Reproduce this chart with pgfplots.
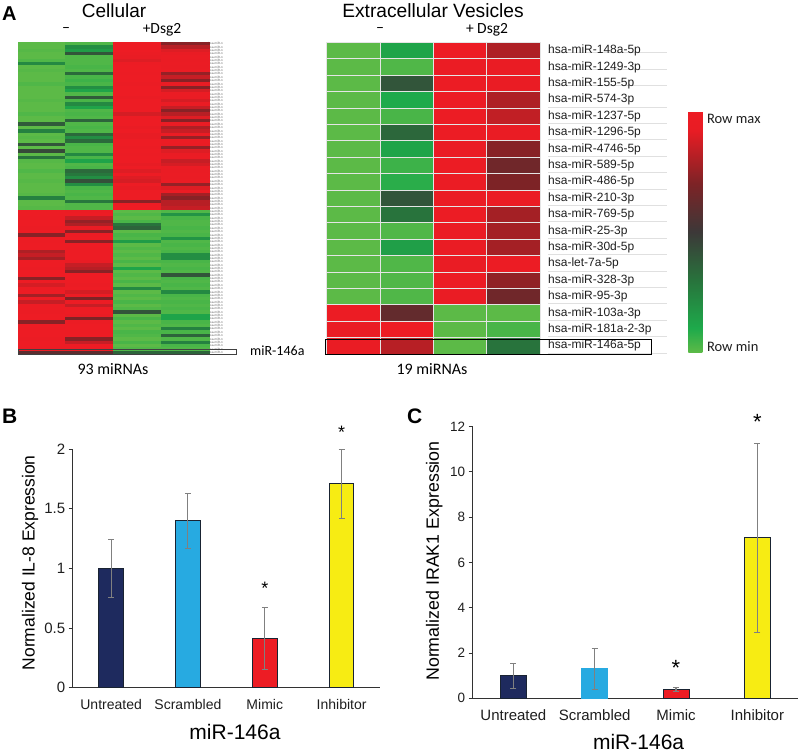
\documentclass[border=0pt]{standalone}
\usepackage{fontspec}
\setmainfont{Liberation Sans}
\newfontfamily\calfont{Carlito}
\usepackage{pgfplots}
\usepackage{pgfplotstable}
\pgfplotsset{compat=1.18}
\definecolor{cNavy}{RGB}{30,42,94}
\definecolor{cSky}{RGB}{39,170,225}
\definecolor{cRed}{RGB}{237,28,36}
\definecolor{cYel}{RGB}{247,236,19}
\definecolor{cEdge}{RGB}{25,35,50}
\definecolor{cAxis}{RGB}{50,50,50}
\definecolor{cTxt}{RGB}{30,30,30}
\pgfplotsset{colormap={hm}{rgb255(0)=(92,186,71) rgb255(10)=(30,170,75) rgb255(30)=(40,115,60) rgb255(50)=(60,56,56) rgb255(70)=(125,35,38) rgb255(92)=(232,28,36) rgb255(100)=(237,28,36)}}
\pgfdeclareplotmark{cellL}{\pgfpathrectangle{\pgfqpoint{-23.8pt}{-1.68pt}}{\pgfqpoint{47.6pt}{3.36pt}}\pgfusepathqfillstroke}
\pgfdeclareplotmark{cellE}{\pgfpathrectangle{\pgfqpoint{-26.65pt}{-8.2pt}}{\pgfqpoint{53.3pt}{16.4pt}}\pgfusepathqfillstroke}
% Cellular heatmap, 93 rows: 0 = row min, 1 = row max
\pgfplotstableread{
r c1 c2 c3 c4
0 0 0.02 1 0.72
1 0 0.2 1 0.82
2 0.01 0.15 1 0.9
3 0 0.4 0.97 0.93
4 0 0.02 0.93 0.97
5 0.02 0.02 0.9 0.96
6 0.22 0.02 0.98 0.97
7 0 0.03 1 0.96
8 0.01 0.02 1 0.97
9 0 0.33 0.98 0.75
10 0 0.03 1 0.85
11 0 0.05 1 0.72
12 0.02 0.03 0.97 0.94
13 0 0.2 1 0.72
14 0 0.12 1 0.88
15 0 0.02 1 0.97
16 0 0.38 0.96 0.96
17 0.01 0.03 1 0.88
18 0 0.22 1 0.96
19 0 0.12 1 0.85
20 0 0.02 1 0.72
21 0.02 0.03 0.88 0.82
22 0 0.02 1 0.9
23 0 0.35 1 0.72
24 0.38 0.02 1 0.97
25 0 0.03 0.93 0.8
26 0.25 0.02 1 0.85
27 0 0.33 0.92 0.95
28 0.01 0.2 0.92 0.75
29 0 0.33 1 0.97
30 0.4 0.03 1 0.96
31 0 0.02 0.97 0.75
32 0.44 0.02 1 0.9
33 0 0.22 0.98 0.96
34 0.3 0.03 1 0.97
35 0.01 0.12 1 0.85
36 0 0.02 0.92 0.88
37 0 0.03 1 0.97
38 0.02 0.33 0.9 0.96
39 0 0.28 1 0.97
40 0 0.2 0.9 0.96
41 0.01 0.42 0.88 0.97
42 0 0.2 1 0.75
43 0 0.03 0.92 0.9
44 0 0.02 1 0.97
45 0.01 0.03 1 0.78
46 0.25 0.02 1 0.72
47 0 0.28 0.72 0.82
48 0 0.02 0.98 0.82
49 0.01 0.02 1 0.85
50 1 0.97 0 0.02
51 1 1 0.02 0.18
52 0.98 0.85 0 0.03
53 1 0.75 0.03 0.02
54 1 0.8 0.3 0.02
55 0.97 0.95 0.35 0.03
56 1 0.72 0 0.02
57 0.72 0.98 0.03 0.03
58 1 1 0.02 0.18
59 0.98 0.72 0.15 0.02
60 1 1 0 0.03
61 1 0.98 0.02 0.02
62 0.8 1 0 0.03
63 0.85 1 0.02 0.2
64 0.78 1 0 0.2
65 1 0.95 0.03 0.03
66 1 0.85 0 0.02
67 0.97 0.82 0.12 0.03
68 1 0.72 0 0.02
69 1 1 0.02 0.4
70 0.72 1 0 0.03
71 1 1 0.03 0.02
72 0.88 0.97 0 0.03
73 1 1 0.22 0.02
74 1 0.88 0 0.22
75 0.78 1 0.02 0.03
76 1 0.7 0 0.02
77 0.85 0.98 0.03 0.03
78 1 0.85 0 0.02
79 1 1 0.02 0.03
80 0.97 1 0.4 0.02
81 1 0.95 0 0.12
82 1 0.7 0.03 0.12
83 0.72 0.97 0 0.03
84 1 1 0.02 0.02
85 0.98 1 0 0.25
86 1 0.98 0.03 0.03
87 1 1 0.02 0.35
88 0.97 0.72 0 0.02
89 1 0.85 0.03 0.25
90 1 1 0 0.03
91 0.98 1 0.02 0.02
92 0.6 0.6 0.35 0.35
}\cellular
% Extracellular vesicles heatmap, 19 rows
\pgfplotstableread{
r c1 c2 c3 c4
0 0 0.12 1 0.8
1 0 0.02 0.97 0.95
2 0 0.4 0.98 0.95
3 0 0.1 0.98 0.8
4 0 0.03 0.98 0.84
5 0 0.34 0.98 0.95
6 0 0.12 0.96 0.72
7 0 0.05 0.98 0.66
8 0 0.08 0.97 0.7
9 0 0.4 0.97 0.97
10 0 0.3 0.98 0.78
11 0 0.02 0.97 0.78
12 0 0.14 0.96 0.78
13 0 0.02 0.95 0.98
14 0 0.02 0.98 0.74
15 0 0.02 0.96 0.66
16 0.98 0.62 0 0
17 0.96 1 0 0.03
18 0.96 0.82 0 0.3
}\vesicles
\begin{document}
\begin{tikzpicture}[x=1pt,y=1pt]
\path[use as bounding box] (0,0) rectangle (800,752);
% --- Cellular heatmap
\begin{axis}[at={(17.7pt,398pt)},anchor=south west,scale only axis,width=191pt,height=312pt,
  xmin=-0.5,xmax=3.5,ymin=-0.5,ymax=92.5,y dir=reverse,clip=false,
  axis line style={draw=none},tick style={draw=none},xtick=\empty,
  ytick={0,1,...,92},yticklabel pos=right,
  yticklabel={hsa-miR-n},
  yticklabel style={font=\fontsize{3.1}{3.2}\selectfont,text=black!60,anchor=west,xshift=-1pt,inner sep=0.6pt},
  colormap name=hm,point meta min=0,point meta max=1,
  cellplot/.style={only marks,scatter,point meta=explicit,mark=cellL,mark options={line width=0.12pt},
    scatter/use mapped color={draw=mapped color,fill=mapped color}}]
\addplot[cellplot] table[x expr=0,y=r,meta=c1] {\cellular};
\addplot[cellplot] table[x expr=1,y=r,meta=c2] {\cellular};
\addplot[cellplot] table[x expr=2,y=r,meta=c3] {\cellular};
\addplot[cellplot] table[x expr=3,y=r,meta=c4] {\cellular};
\end{axis}
% grey rules beside the vesicle labels
\foreach \yy in {645,628.6,612.2,595.8,579.4,563,546.6,530.2,513.8,497.4,481,464.6,448.2,431.8,415.4,399,700,683,667}
  \draw[black!12,line width=0.6pt] (548,\yy) -- (667,\yy);
% --- Vesicle heatmap
\begin{axis}[at={(326.7pt,398pt)},anchor=south west,scale only axis,width=213.3pt,height=311.6pt,
  xmin=-0.5,xmax=3.5,ymin=-0.5,ymax=18.5,y dir=reverse,clip=false,
  axis line style={draw=none},tick style={draw=none},xtick=\empty,
  ytick={0,1,...,18},yticklabel pos=right,
  yticklabels={hsa-miR-148a-5p,hsa-miR-1249-3p,hsa-miR-155-5p,hsa-miR-574-3p,hsa-miR-1237-5p,hsa-miR-1296-5p,hsa-miR-4746-5p,hsa-miR-589-5p,hsa-miR-486-5p,hsa-miR-210-3p,hsa-miR-769-5p,hsa-miR-25-3p,hsa-miR-30d-5p,hsa-let-7a-5p,hsa-miR-328-3p,hsa-miR-95-3p,hsa-miR-103a-3p,hsa-miR-181a-2-3p,hsa-miR-146a-5p},
  yticklabel style={font=\fontsize{12}{13}\selectfont,text=cTxt,anchor=west,inner sep=0pt,xshift=8pt},
  colormap name=hm,point meta min=0,point meta max=1,
  cellplot/.style={only marks,scatter,point meta=explicit,mark=cellE,mark options={line width=0.9pt},
    scatter/use mapped color={draw=white!90!black,fill=mapped color}},
  colorbar,
  colorbar style={at={(1.695,0.392)},anchor=west,width=14.6pt,height=241pt,
    ytick={0.025,0.97},yticklabels={Row min,Row max},
    ytick pos=right,yticklabel pos=right,
    axis line style={draw=none},tick style={draw=none},
    yticklabel style={font=\calfont\fontsize{14.5}{15}\selectfont,text=cTxt,anchor=west,inner sep=0pt,xshift=4pt}}]
\addplot[cellplot] table[x expr=0,y=r,meta=c1] {\vesicles};
\addplot[cellplot] table[x expr=1,y=r,meta=c2] {\vesicles};
\addplot[cellplot] table[x expr=2,y=r,meta=c3] {\vesicles};
\addplot[cellplot] table[x expr=3,y=r,meta=c4] {\vesicles};
\end{axis}
\draw[black!75,line width=0.8pt] (18,398) rectangle (236,402.5);
\draw[black,line width=0.8pt] (325.7,398) rectangle (651,413);
% --- titles and annotations of panel A
\node[font=\fontsize{20}{22}\selectfont\bfseries,anchor=west,inner sep=0pt] at (2,738) {A};
\node[font=\fontsize{19}{21}\selectfont] at (114,741) {Cellular};
\node[font=\fontsize{19.2}{21}\selectfont] at (433,741) {Extracellular Vesicles};
\node[font=\calfont\fontsize{16}{18}\selectfont] at (66,722) {–};
\node[font=\calfont\fontsize{15.5}{18}\selectfont] at (162,722) {+Dsg2};
\node[font=\calfont\fontsize{16}{18}\selectfont] at (380,722) {–};
\node[font=\calfont\fontsize{15.5}{18}\selectfont] at (487,722) {+ Dsg2};
\node[font=\calfont\fontsize{16}{18}\selectfont] at (113,383) {93 miRNAs};
\node[font=\calfont\fontsize{16}{18}\selectfont] at (432,383) {19 miRNAs};
\node[font=\calfont\fontsize{14}{16}\selectfont,anchor=west,inner sep=0pt] at (250,401) {miR-146a};
\node[font=\fontsize{21}{23}\selectfont\bfseries,anchor=west,inner sep=0pt] at (2,336) {B};
\node[font=\fontsize{21}{23}\selectfont\bfseries,anchor=west,inner sep=0pt] at (407,336) {C};
% --- Panel B
\begin{axis}[at={(72.7pt,64.3pt)},anchor=south west,scale only axis,width=307.3pt,height=238.4pt,
  xmin=-0.5,xmax=3.5,ymin=0,ymax=2,ybar,bar width=24.5pt,clip=false,
  axis x line*=bottom,axis y line*=left,axis line style={-,cAxis,line width=1pt},
  xtick={0,1,2,3},xticklabels={Untreated,Scrambled,Mimic,Inhibitor},
  xticklabel style={font=\fontsize{14}{16}\selectfont,text=cTxt,yshift=-4pt},
  ytick={0,0.5,1,1.5,2},
  yticklabel style={font=\fontsize{15}{16}\selectfont,text=cTxt,
    /pgf/number format/assume math mode=true,/pgf/number format/fixed},
  tick align=outside,major tick length=4pt,xtick style={draw=none},ytick style={cAxis,line width=1pt},
  xlabel={miR-146a},ylabel={Normalized IL-8 Expression},
  xlabel style={font=\fontsize{21}{23}\selectfont,at={(axis description cs:0.528,-0.186)},anchor=center},
  ylabel style={font=\fontsize{17.5}{19}\selectfont,at={(axis description cs:-0.139,0.524)},anchor=center},
  bar shift=0pt,
  errstyle/.style={error bars/.cd,y dir=both,y explicit,
    error bar style={black!50,line width=1.1pt},
    error mark options={rotate=90,mark size=3pt,black!50,line width=1pt}}]
\addplot[fill=cNavy,draw=cEdge,line width=1pt,errstyle] coordinates {(0,1) +- (0,0.24)};
\addplot[fill=cSky,draw=cEdge,line width=1pt,errstyle] coordinates {(1,1.4) +- (0,0.23)};
\addplot[fill=cRed,draw=cEdge,line width=1pt,errstyle] coordinates {(2,0.41) +- (0,0.26)};
\addplot[fill=cYel,draw=cEdge,line width=1pt,errstyle] coordinates {(3,1.71) +- (0,0.29)};
\node[font=\fontsize{18}{20}\selectfont] at (axis cs:3,2.14) {*};
\node[font=\fontsize{18}{20}\selectfont] at (axis cs:2,0.83) {*};
\end{axis}
% --- Panel C
\begin{axis}[at={(472.7pt,53.7pt)},anchor=south west,scale only axis,width=325.3pt,height=271.6pt,
  xmin=-0.5,xmax=3.5,ymin=0,ymax=12,ybar,bar width=26pt,clip=false,
  axis x line*=bottom,axis y line*=left,axis line style={-,cAxis,line width=1pt},
  xtick={0,1,2,3},xticklabels={Untreated,Scrambled,Mimic,Inhibitor},
  xticklabel style={font=\fontsize{15}{17}\selectfont,text=cTxt,yshift=-4pt},
  ytick={0,2,4,6,8,10,12},
  yticklabel style={font=\fontsize{13.5}{15}\selectfont,text=cTxt,
    /pgf/number format/assume math mode=true},
  tick align=outside,major tick length=4pt,xtick style={draw=none},ytick style={cAxis,line width=1pt},
  xlabel={miR-146a},ylabel={Normalized IRAK1 Expression},
  xlabel style={font=\fontsize{21}{21}\selectfont,inner sep=0pt,at={(axis description cs:0.51,-0.162)},anchor=center},
  ylabel style={font=\fontsize{17.8}{19}\selectfont,at={(axis description cs:-0.118,0.5055)},anchor=center},
  bar shift=0pt,
  errstyle/.style={error bars/.cd,y dir=both,y explicit,
    error bar style={black!50,line width=1.1pt},
    error mark options={rotate=90,mark size=3pt,black!50,line width=1pt}}]
\addplot[fill=cNavy,draw=cEdge,line width=1pt,errstyle] coordinates {(0,1) += (0,0.53) -= (0,0.55)};
\addplot[fill=cSky,draw=cSky,line width=1pt,errstyle] coordinates {(1,1.3) += (0,0.9) -= (0,0.9)};
\addplot[fill=cRed,draw=cEdge,line width=1pt,errstyle] coordinates {(2,0.4) += (0,0.07) -= (0,0.1)};
\addplot[fill=cYel,draw=cEdge,line width=1pt,errstyle] coordinates {(3,7.1) += (0,4.15) -= (0,4.2)};
\node[font=\fontsize{22}{24}\selectfont] at (axis cs:3,12.2) {*};
\node[font=\fontsize{22}{24}\selectfont] at (axis cs:2,1.35) {*};
\end{axis}
\end{tikzpicture}
\end{document}
